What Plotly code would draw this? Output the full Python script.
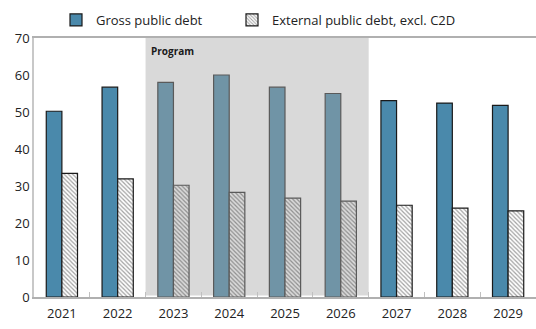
import plotly.graph_objects as go

years = ["2021", "2022", "2023", "2024", "2025", "2026", "2027", "2028", "2029"]
gross_debt = [50.2, 56.7, 58.0, 60.0, 56.7, 55.0, 53.1, 52.4, 51.8]
external_debt = [33.4, 31.9, 30.2, 28.3, 26.7, 25.9, 24.8, 24.0, 23.3]
program_years = ["2023", "2024", "2025", "2026"]

in_prog = [y in program_years for y in years]

gross_fill = ["#7094a6" if p else "#4a89ab" for p in in_prog]
gross_edge = ["#5a5a5a" if p else "#1a1a1a" for p in in_prog]
ext_bg = ["#dadada" if p else "#ffffff" for p in in_prog]
ext_fg = ["#7a7a7a" if p else "#3a3a3a" for p in in_prog]
ext_edge = ["#5a5a5a" if p else "#1a1a1a" for p in in_prog]

font_family = "Open Sans, Noto Sans, sans-serif"

fig = go.Figure()
fig.add_trace(go.Bar(
    x=years, y=gross_debt, name="Gross public debt", legend="legend",
    marker=dict(color=gross_fill, line=dict(color=gross_edge, width=1.2)),
))
fig.add_trace(go.Bar(
    x=years, y=external_debt, name="External public debt, excl. C2D", legend="legend2",
    marker=dict(
        color=ext_bg,
        line=dict(color=ext_edge, width=1.2),
        pattern=dict(shape="\\", size=3, solidity=0.4, fgcolor=ext_fg,
                     fillmode="overlay"),
    ),
))

first = years.index(program_years[0])
last = years.index(program_years[-1])
fig.add_shape(type="rect", xref="x", yref="y",
              x0=first - 0.5, x1=last + 0.5, y0=0.4, y1=70,
              fillcolor="#d9d9d9", line=dict(width=0), layer="below")
fig.add_annotation(x=first - 0.5, y=69, xref="x", yref="y", text="<b>Program</b>",
                   showarrow=False, xanchor="left", yanchor="top", xshift=3,
                   font=dict(size=10, color="#1a1a1a", family=font_family))

legend_common = dict(orientation="h", xanchor="left", xref="container", yref="container",
                     y=1 - 20 / 329, yanchor="middle", font=dict(size=13))

fig.update_layout(
    width=536, height=329,
    margin=dict(l=34, r=0, t=38, b=32, autoexpand=False),
    paper_bgcolor="white", plot_bgcolor="white",
    barmode="group", bargap=0.44, bargroupgap=0,
    font=dict(family=font_family, size=13, color="#222222"),
    legend=dict(x=56 / 536, **legend_common),
    legend2=dict(x=232 / 536, **legend_common),
    showlegend=True,
)
fig.update_xaxes(type="category", showline=True, linecolor="#b0b0b0", linewidth=1.5,
                 mirror=True, ticks="inside", tickson="boundaries", ticklen=5,
                 tickcolor="#c0c0c0", showgrid=False, tickfont=dict(size=13),
                 ticklabelstandoff=4)
fig.update_yaxes(range=[0, 70], dtick=10, showline=True, linecolor="#c8c8c8", linewidth=1.5,
                 showgrid=False, zeroline=False, ticks="", tickfont=dict(size=13))

fig.write_html("out.html")
